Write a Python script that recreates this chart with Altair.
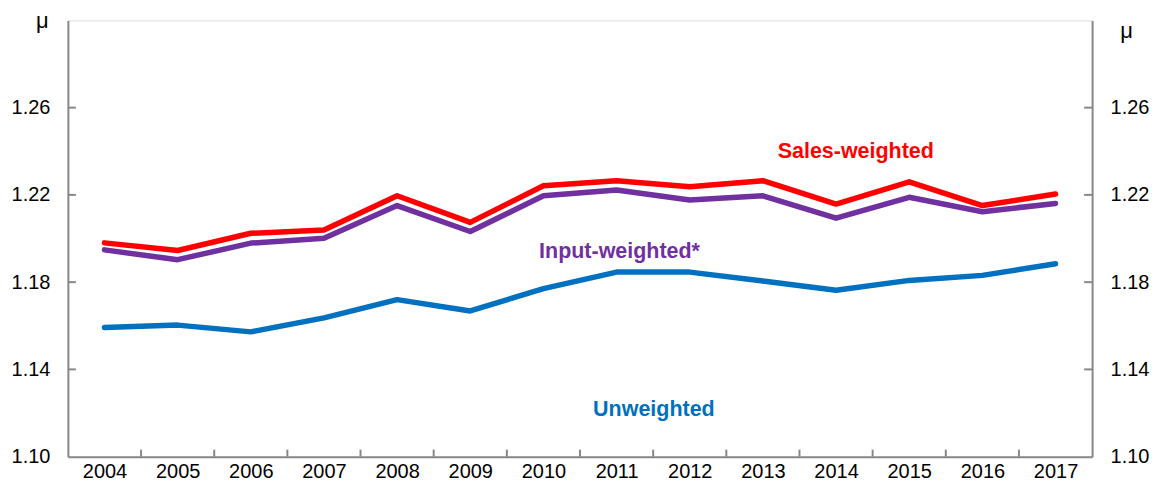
import altair as alt
import pandas as pd

years = [2004, 2005, 2006, 2007, 2008, 2009, 2010, 2011, 2012, 2013, 2014, 2015, 2016, 2017]
sales_weighted = [1.1980, 1.1945, 1.2024, 1.2039, 1.2196, 1.2074, 1.2242, 1.2265, 1.2237, 1.2265, 1.2158, 1.2260, 1.2151, 1.2204]
input_weighted = [1.1948, 1.1903, 1.1979, 1.2001, 1.2151, 1.2032, 1.2196, 1.2222, 1.2177, 1.2196, 1.2093, 1.2189, 1.2123, 1.2161]
unweighted = [1.1592, 1.1603, 1.1572, 1.1636, 1.1720, 1.1668, 1.1770, 1.1846, 1.1846, 1.1805, 1.1763, 1.1808, 1.1831, 1.1884]

series_names = ["Unweighted", "Input-weighted*", "Sales-weighted"]
series_colors = ["#0070C0", "#7030A0", "#FF0000"]

y_ticks = [1.10, 1.14, 1.18, 1.22, 1.26]
y_inner_ticks = [1.14, 1.18, 1.22, 1.26]
x_boundaries = [2004.5, 2005.5, 2006.5, 2007.5, 2008.5, 2009.5, 2010.5,
                2011.5, 2012.5, 2013.5, 2014.5, 2015.5, 2016.5]

# label annotations (series name, year position, value position)
label_names = ["Sales-weighted", "Input-weighted*", "Unweighted"]
label_x = [2014.27, 2011.04, 2011.51]
label_y = [1.2397, 1.1940, 1.1215]

rows = []
for name, vals in zip(series_names, [unweighted, input_weighted, sales_weighted]):
    for yr, v in zip(years, vals):
        rows.append({"year": yr, "value": v, "series": name})
df = pd.DataFrame(rows)
labels_df = pd.DataFrame({"series": label_names, "year": label_x, "value": label_y})
yt_df = pd.DataFrame({"value": y_inner_ticks})
xb_df = pd.DataFrame({"year": x_boundaries})

GRAY = "#888888"
W, H = 1026, 437

xscale = alt.Scale(domain=[2003.5, 2017.5], nice=False, zero=False)
xaxis = alt.Axis(values=years, format="d", tickSize=0, labelFontSize=20,
                 labelPadding=5, labelColor="#000000", domainColor=GRAY,
                 domainWidth=2, grid=False, title=None, labelOverlap=False,
                 labelFlush=False)


def yscale():
    return alt.Scale(domain=[1.10, 1.30], nice=False, zero=False)


color_enc = alt.Color("series:N", scale=alt.Scale(domain=series_names, range=series_colors), legend=None)

lines = alt.Chart(df).mark_line(strokeWidth=5.5, strokeCap="round", strokeJoin="round").encode(
    x=alt.X("year:Q", scale=xscale, axis=xaxis),
    y=alt.Y("value:Q", scale=yscale(), axis=alt.Axis(
        orient="left", values=y_ticks, format=".2f", tickSize=0, labelFontSize=20,
        labelPadding=18, labelColor="#000000", domainColor=GRAY, domainWidth=2,
        grid=False, title="μ", titleAngle=0, titleX=-26, titleY=7,
        titleAlign="center", titleBaseline="alphabetic", titleFontWeight="normal",
        titleFontSize=22, titleColor="#000000")),
    color=color_enc,
)

left_ticks = alt.Chart(yt_df).mark_rule(color=GRAY, strokeWidth=2).encode(
    y=alt.Y("value:Q", scale=yscale(), axis=None),
    x=alt.value(0), x2=alt.value(8),
)

right_ticks = alt.Chart(yt_df).mark_rule(color=GRAY, strokeWidth=2).encode(
    y=alt.Y("value:Q", scale=yscale(), axis=alt.Axis(
        orient="right", values=y_ticks, format=".2f", tickSize=0, labelFontSize=20,
        labelPadding=18, labelColor="#000000", domainColor=GRAY, domainWidth=2,
        grid=False, title="μ", titleAngle=0, titleX=34, titleY=17.5,
        titleAlign="center", titleBaseline="alphabetic", titleFontWeight="normal",
        titleFontSize=22, titleColor="#000000")),
    x=alt.value(W), x2=alt.value(W - 8),
)

bottom_ticks = alt.Chart(xb_df).mark_rule(color=GRAY, strokeWidth=2).encode(
    x=alt.X("year:Q", scale=xscale, axis=xaxis),
    y=alt.value(H), y2=alt.value(H - 7),
)

texts = alt.Chart(labels_df).mark_text(fontWeight="bold", fontSize=21.5, align="center", baseline="middle").encode(
    x=alt.X("year:Q", scale=xscale, axis=xaxis),
    y=alt.Y("value:Q", scale=yscale(), axis=None),
    text="series:N",
    color=color_enc,
)

chart = alt.layer(lines, left_ticks, right_ticks, bottom_ticks, texts).resolve_scale(
    y="independent"
).properties(
    width=W, height=H,
    autosize=alt.AutoSizeParams(type="none"),
    padding={"left": 60, "top": 12, "right": 64, "bottom": 30},
).configure_view(stroke=None).configure(font="Liberation Sans")

chart.save("out.html", embed_options={"renderer": "svg", "actions": False})
